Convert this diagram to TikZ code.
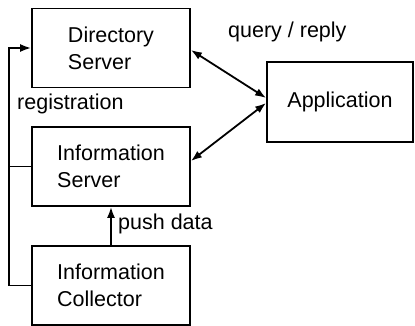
\documentclass[tikz,border=0pt]{standalone}
\usepackage{fontspec}
\setmainfont{Liberation Sans}
\usetikzlibrary{arrows.meta}
\begin{document}
\begin{tikzpicture}[x=1pt,y=1pt,
  every node/.style={font=\fontsize{21.5}{27}\selectfont},
  box/.style={draw,line width=1.8pt,minimum width=158pt,minimum height=79pt,align=left,inner sep=0pt},
  conn/.style={line width=1.8pt},
  tip/.style={-{Latex[length=11pt,width=8pt]}},
  bitip/.style={{Latex[length=11pt,width=8pt]}-{Latex[length=11pt,width=8pt]}}]
\useasboundingbox (0,0) rectangle (415,326);
% boxes
\node[box] (DS) at (111,278) {Directory\\Server};
\node[box] (IS) at (111,159.5) {Information\\Server};
\node[box] (IC) at (111,40.5) {Information\\Collector};
\node[box,minimum width=146pt,minimum height=80pt] (App) at (340,224) {Application};
% registration path
\coordinate (c1) at (9,40.5);
\coordinate (c2) at (9,278);
\coordinate (c3) at (9,159.5);
\draw[conn,tip] (IC.west) -- (c1) -- (c2) -- (DS.west);
\draw[conn] (IS.west) -- (c3);
% push data
\draw[conn,tip] (IC.north) -- (IS.south);
% query / reply
\draw[conn,bitip] ([yshift=-2pt]DS.east) -- ([yshift=4pt]App.west);
\draw[conn,bitip] ([yshift=5.5pt]IS.east) -- ([yshift=-1pt]App.west);
% labels
\node[anchor=base west,inner sep=0pt] (reg) at (17,216) {registration};
\node[anchor=base west,inner sep=0pt] (qr) at (228,288) {query / reply};
\node[anchor=base west,inner sep=0pt] (pd) at (118,96) {push data};
\end{tikzpicture}
\end{document}
